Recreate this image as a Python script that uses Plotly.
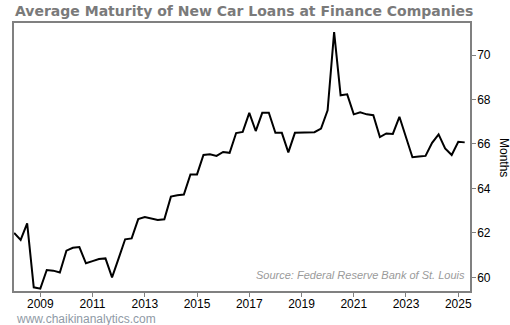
import plotly.graph_objects as go
import pandas as pd

# Quarterly data, 2008 Q1 .. 2025 Q2
dates = pd.date_range("2008-01-01", periods=70, freq="QS").strftime("%Y-%m-%d").tolist()
months = [
    62.00, 61.68, 62.43, 59.55, 59.49, 60.33, 60.30, 60.22,
    61.20, 61.33, 61.36, 60.63, 60.73, 60.82, 60.85, 60.00,
    60.85, 61.71, 61.75, 62.62, 62.71, 62.64, 62.58, 62.61,
    63.63, 63.69, 63.72, 64.63, 64.63, 65.50, 65.53, 65.46,
    65.64, 65.60, 66.49, 66.54, 67.40, 66.58, 67.40, 67.40,
    66.50, 66.50, 65.62, 66.50, 66.52, 66.52, 66.53, 66.69,
    67.51, 71.03, 68.19, 68.23, 67.33, 67.42, 67.33, 67.29,
    66.31, 66.47, 66.45, 67.22, 66.30, 65.40, 65.43, 65.46,
    66.05, 66.43, 65.80, 65.50, 66.10, 66.07,
]
x_tick_years = [str(y) for y in range(2009, 2026, 2)]
y_ticks = [60, 62, 64, 66, 68, 70]

fig = go.Figure()
fig.add_trace(go.Scatter(x=dates, y=months, mode="lines",
                         line=dict(color="black", width=2), hoverinfo="skip"))

axis_line = "#808080"
fig.update_layout(
    width=510, height=325,
    margin=dict(l=14, r=40, t=23, b=34),
    paper_bgcolor="white", plot_bgcolor="white",
    showlegend=False,
    font=dict(family="Liberation Sans, Arial, sans-serif", size=12, color="black"),
    xaxis=dict(
        type="date",
        range=["2007-12-30", "2025-06-14"],
        tickvals=[f"{y}-01-01" for y in x_tick_years],
        ticktext=x_tick_years,
        ticks="outside", ticklen=4, tickcolor=axis_line, tickwidth=1,
        ticklabelstandoff=-3,
        showline=True, linecolor=axis_line, linewidth=1.5, mirror=True,
        showgrid=False, zeroline=False,
        tickfont=dict(size=12, color="black"),
    ),
    yaxis=dict(
        side="right",
        range=[59.384, 71.44],
        tickvals=y_ticks,
        ticks="outside", ticklen=4, tickcolor=axis_line, tickwidth=1,
        ticklabelstandoff=-1,
        showline=True, linecolor=axis_line, linewidth=1.5, mirror=True,
        showgrid=False, zeroline=False,
        tickfont=dict(size=12, color="black"),
    ),
    annotations=[
        dict(text="<b>Average Maturity of New Car Loans at Finance Companies</b>",
             xref="paper", yref="paper", x=-0.003, y=1.0, xanchor="left", yanchor="bottom",
             yshift=2, showarrow=False,
             font=dict(family="DejaVu Sans, Verdana, sans-serif", size=14, color="#7a7a7a")),
        dict(text="Months", xref="paper", yref="paper", x=1.0, y=0.5,
             xshift=34, textangle=90, showarrow=False, xanchor="center", yanchor="middle",
             font=dict(size=12, color="black")),
        dict(text="<i>Source: Federal Reserve Bank of St. Louis</i>",
             xref="paper", yref="paper", x=0.993, y=0.06, xanchor="right", yanchor="middle",
             showarrow=False, font=dict(size=11, color="#9a9a9a")),
        dict(text="www.chaikinanalytics.com", xref="paper", yref="paper",
             x=0.0, y=0.0, xanchor="left", yanchor="middle", yshift=-28, showarrow=False,
             font=dict(size=12, color="#8f9aa6")),
    ],
)

fig.write_html("out.html")
